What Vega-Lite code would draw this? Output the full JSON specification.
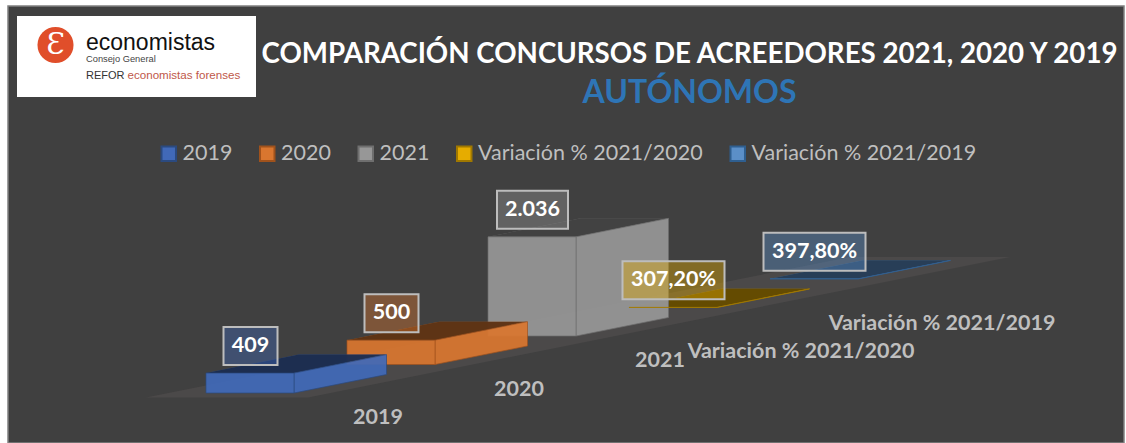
{
"$schema":"https://vega.github.io/schema/vega-lite/v6.json",
"width":1116,"height":437,
"autosize":{"type":"none"},
"padding":{"left":8,"top":6,"right":2,"bottom":0},
"background":"#ffffff",
"view":{"fill":"#404040","stroke":"#808080","strokeWidth":1.5},
"title":{"text":"COMPARACIÓN CONCURSOS DE ACREEDORES 2021, 2020 Y 2019","subtitle":"AUTÓNOMOS","anchor":"middle","frame":"group","dx":123.5,"offset":-103,"font":"Lato","fontSize":27.7,"fontWeight":"bold","color":"#ffffff","subtitleFont":"Lato","subtitleFontSize":32,"subtitleFontWeight":"bold","subtitleColor":"#2E75B6","subtitlePadding":9},
"config":{"legend":{"orient":"none","legendX":150,"legendY":137,"direction":"horizontal","title":null,"symbolType":"square","symbolSize":210,"symbolStrokeWidth":2,"labelFont":"Lato","labelFontSize":21.5,"labelColor":"#BFBFBF","labelOffset":3,"columnPadding":22.5,"labelLimit":400,"symbolOpacity":1}},
"data":{"values":[
{"serie":"2019","valor":409,"etiqueta":"409","eje":"2019"},
{"serie":"2020","valor":500,"etiqueta":"500","eje":"2020"},
{"serie":"2021","valor":2036,"etiqueta":"2.036","eje":"2021"},
{"serie":"Variación % 2021/2020","valor":3.072,"etiqueta":"307,20%","eje":"Variación % 2021/2020"},
{"serie":"Variación % 2021/2019","valor":3.978,"etiqueta":"397,80%","eje":"Variación % 2021/2019"}
]},
"transform":[
{"calculate":"indexof(['2019','2020','2021','Variación % 2021/2020','Variación % 2021/2019'],datum.serie)","as":"i"},
{"calculate":"206+141*datum.i","as":"x0"},
{"calculate":"393-28.5*datum.i","as":"yf"},
{"calculate":"datum.yf-datum.valor*0.0487","as":"yt"}
],
"encoding":{
"x":{"field":"px","type":"quantitative","scale":{"domain":[8,1124]},"axis":null},
"y":{"field":"py","type":"quantitative","scale":{"domain":[443,6]},"axis":null},
"fill":{"field":"serie","type":"nominal","title":null,"scale":{"domain":["2019","2020","2021","Variación % 2021/2020","Variación % 2021/2019"],"range":["#4169B8","#D9762F","#979797","#E6AC00","#5B8FC8"]}},
"stroke":{"field":"serie","type":"nominal","title":null,"scale":{"domain":["2019","2020","2021","Variación % 2021/2020","Variación % 2021/2019"],"range":["#2B4A80","#A0521C","#6F6F6F","#A07800","#2F5F90"]}}
},
"layer":[
{"data":{"values":[{"plano":"suelo"}]},
"transform":[{"calculate":"[0,1,2,3]","as":"t"},{"flatten":["t"]},
{"calculate":"[146,308,850,1010][datum.t]","as":"px"},
{"calculate":"[397.5,397.5,289,257][datum.t]","as":"py"},
{"calculate":"[397.5,365,257,257][datum.t]","as":"py2"}],
"mark":{"type":"area","orient":"vertical"},
"encoding":{"y2":{"field":"py2"},"fill":{"value":"#4B4949"},"stroke":{"value":null}}},

{"transform":[{"filter":"datum.i>=2"},{"calculate":"[0,1,2,3]","as":"t"},{"flatten":["t"]},
{"calculate":"datum.x0+[0,88,92.5,180.5][datum.t]","as":"px"},
{"calculate":"datum.yt-[0,0,0.9,18.5][datum.t]","as":"py"},
{"calculate":"datum.yt-[0,17.6,18.5,18.5][datum.t]","as":"py2"}],
"layer":[
{"mark":{"type":"area","orient":"vertical","fillOpacity":0.95,"strokeWidth":0},"encoding":{"y2":{"field":"py2"},"detail":{"field":"serie"},"stroke":{"value":null}}},
{"mark":{"type":"area","orient":"vertical","fillOpacity":0.55},"encoding":{"y2":{"field":"py2"},"detail":{"field":"serie"},"fill":{"value":"#000000"},"stroke":{"value":null}}}
]},
{"transform":[{"filter":"datum.i>=2"},{"calculate":"[0,1]","as":"t"},{"flatten":["t"]},
{"calculate":"datum.x0+88+92.5*datum.t","as":"px"},
{"calculate":"datum.yf-18.5*datum.t","as":"py"},
{"calculate":"datum.yt-18.5*datum.t","as":"py2"}],
"mark":{"type":"area","orient":"vertical","fillOpacity":0.93,"strokeWidth":0.7},
"encoding":{"y2":{"field":"py2"},"detail":{"field":"serie"}}},
{"transform":[{"filter":"datum.i>=2"},{"calculate":"datum.x0","as":"px"},{"calculate":"datum.x0+88","as":"px2"},{"calculate":"datum.yf","as":"py"},{"calculate":"datum.yt","as":"py2"}],
"mark":{"type":"rect","fillOpacity":0.93,"strokeWidth":0.7},
"encoding":{"x2":{"field":"px2"},"y2":{"field":"py2"}}},

{"transform":[{"filter":"datum.i==1"},{"calculate":"[0,1,2,3]","as":"t"},{"flatten":["t"]},
{"calculate":"datum.x0+[0,88,92.5,180.5][datum.t]","as":"px"},
{"calculate":"datum.yt-[0,0,0.9,18.5][datum.t]","as":"py"},
{"calculate":"datum.yt-[0,17.6,18.5,18.5][datum.t]","as":"py2"}],
"layer":[
{"mark":{"type":"area","orient":"vertical","fillOpacity":0.95,"strokeWidth":0},"encoding":{"y2":{"field":"py2"},"detail":{"field":"serie"},"stroke":{"value":null}}},
{"mark":{"type":"area","orient":"vertical","fillOpacity":0.55},"encoding":{"y2":{"field":"py2"},"detail":{"field":"serie"},"fill":{"value":"#000000"},"stroke":{"value":null}}}
]},
{"transform":[{"filter":"datum.i==1"},{"calculate":"[0,1]","as":"t"},{"flatten":["t"]},
{"calculate":"datum.x0+88+92.5*datum.t","as":"px"},
{"calculate":"datum.yf-18.5*datum.t","as":"py"},
{"calculate":"datum.yt-18.5*datum.t","as":"py2"}],
"mark":{"type":"area","orient":"vertical","fillOpacity":0.93,"strokeWidth":0.7},
"encoding":{"y2":{"field":"py2"},"detail":{"field":"serie"}}},
{"transform":[{"filter":"datum.i==1"},{"calculate":"datum.x0","as":"px"},{"calculate":"datum.x0+88","as":"px2"},{"calculate":"datum.yf","as":"py"},{"calculate":"datum.yt","as":"py2"}],
"mark":{"type":"rect","fillOpacity":0.93,"strokeWidth":0.7},
"encoding":{"x2":{"field":"px2"},"y2":{"field":"py2"}}},

{"transform":[{"filter":"datum.i==0"},{"calculate":"[0,1,2,3]","as":"t"},{"flatten":["t"]},
{"calculate":"datum.x0+[0,88,92.5,180.5][datum.t]","as":"px"},
{"calculate":"datum.yt-[0,0,0.9,18.5][datum.t]","as":"py"},
{"calculate":"datum.yt-[0,17.6,18.5,18.5][datum.t]","as":"py2"}],
"layer":[
{"mark":{"type":"area","orient":"vertical","fillOpacity":0.95,"strokeWidth":0},"encoding":{"y2":{"field":"py2"},"detail":{"field":"serie"},"stroke":{"value":null}}},
{"mark":{"type":"area","orient":"vertical","fillOpacity":0.55},"encoding":{"y2":{"field":"py2"},"detail":{"field":"serie"},"fill":{"value":"#000000"},"stroke":{"value":null}}}
]},
{"transform":[{"filter":"datum.i==0"},{"calculate":"[0,1]","as":"t"},{"flatten":["t"]},
{"calculate":"datum.x0+88+92.5*datum.t","as":"px"},
{"calculate":"datum.yf-18.5*datum.t","as":"py"},
{"calculate":"datum.yt-18.5*datum.t","as":"py2"}],
"mark":{"type":"area","orient":"vertical","fillOpacity":0.93,"strokeWidth":0.7},
"encoding":{"y2":{"field":"py2"},"detail":{"field":"serie"}}},
{"transform":[{"filter":"datum.i==0"},{"calculate":"datum.x0","as":"px"},{"calculate":"datum.x0+88","as":"px2"},{"calculate":"datum.yf","as":"py"},{"calculate":"datum.yt","as":"py2"}],
"mark":{"type":"rect","fillOpacity":0.93,"strokeWidth":0.7},
"encoding":{"x2":{"field":"px2"},"y2":{"field":"py2"}}},

{"transform":[{"calculate":"length(datum.etiqueta)==3?54:length(datum.etiqueta)==5?71:102","as":"w"},
{"calculate":"datum.x0+44.5-datum.w/2","as":"px"},{"calculate":"datum.x0+44.5+datum.w/2","as":"px2"},
{"calculate":"datum.yt-8","as":"py"},{"calculate":"datum.yt-46","as":"py2"}],
"mark":{"type":"rect","fillOpacity":0.4,"stroke":"#BDBDBD","strokeWidth":2},
"encoding":{"x2":{"field":"px2"},"y2":{"field":"py2"},"stroke":{"value":"#BDBDBD"}}},
{"transform":[{"calculate":"datum.x0+44.5","as":"px"},{"calculate":"datum.yt-27","as":"py"}],
"mark":{"type":"text","font":"Lato","fontWeight":"bold","fontSize":21.5,"baseline":"middle","align":"center"},
"encoding":{"text":{"field":"etiqueta"},"fill":{"value":"#ffffff"},"stroke":{"value":null}}},
{"transform":[{"calculate":"datum.x0+172","as":"px"},{"calculate":"datum.yf+(datum.i>=3?44.5:25.3)","as":"py"}],
"mark":{"type":"text","font":"Lato","fontWeight":"bold","fontSize":21.5,"baseline":"middle","align":"center"},
"encoding":{"text":{"field":"eje"},"fill":{"value":"#BFBFBF"},"stroke":{"value":null}}},

{"data":{"values":[{"logo":"fondo"}]},
"transform":[{"calculate":"17","as":"px"},{"calculate":"256","as":"px2"},{"calculate":"16","as":"py"},{"calculate":"97","as":"py2"}],
"mark":{"type":"rect"},
"encoding":{"x2":{"field":"px2"},"y2":{"field":"py2"},"fill":{"value":"#ffffff"},"stroke":{"value":null}}},
{"data":{"values":[{"logo":"circulo"}]},
"transform":[{"calculate":"55.5","as":"px"},{"calculate":"45","as":"py"}],
"mark":{"type":"point","filled":true,"shape":"circle","size":1300,"opacity":1},
"encoding":{"fill":{"value":"#E04E2A"},"stroke":{"value":null}}},
{"data":{"values":[{"texto":"Ɛ"}]},
"transform":[{"calculate":"55.5","as":"px"},{"calculate":"45","as":"py"}],
"mark":{"type":"text","font":"DejaVu Serif","fontSize":30,"baseline":"middle","align":"center"},
"encoding":{"text":{"field":"texto"},"fill":{"value":"#ffffff"},"stroke":{"value":null}}},
{"data":{"values":[{"texto":"economistas"}]},
"transform":[{"calculate":"86","as":"px"},{"calculate":"50","as":"py"}],
"mark":{"type":"text","font":"Liberation Sans","fontSize":23,"baseline":"alphabetic","align":"left"},
"encoding":{"text":{"field":"texto"},"fill":{"value":"#111111"},"stroke":{"value":null}}},
{"data":{"values":[{"texto":"Consejo General"}]},
"transform":[{"calculate":"86","as":"px"},{"calculate":"59","as":"py"}],
"mark":{"type":"text","font":"Liberation Sans","fontSize":9.3,"baseline":"middle","align":"left"},
"encoding":{"text":{"field":"texto"},"fill":{"value":"#444444"},"stroke":{"value":null}}},
{"data":{"values":[{"texto":"REFOR"}]},
"transform":[{"calculate":"86","as":"px"},{"calculate":"76","as":"py"}],
"mark":{"type":"text","font":"Liberation Sans","fontSize":11,"baseline":"middle","align":"left"},
"encoding":{"text":{"field":"texto"},"fill":{"value":"#333333"},"stroke":{"value":null}}},
{"data":{"values":[{"texto":"economistas forenses"}]},
"transform":[{"calculate":"127.5","as":"px"},{"calculate":"76","as":"py"}],
"mark":{"type":"text","font":"Liberation Sans","fontSize":11.6,"baseline":"middle","align":"left"},
"encoding":{"text":{"field":"texto"},"fill":{"value":"#C0584A"},"stroke":{"value":null}}}
]
}
